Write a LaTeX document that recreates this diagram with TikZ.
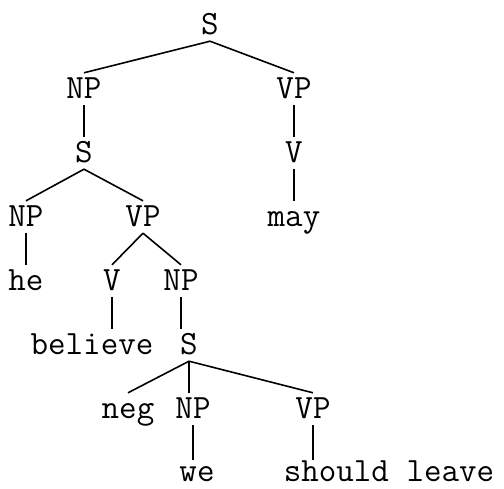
\documentclass[tikz,border=0pt]{standalone}
\usepackage{fontspec}
\tikzset{
  tag/.style = {anchor=base, font=\ttfamily\fontsize{34}{34}\selectfont,
                text height=20pt, text depth=0pt, inner xsep=2pt, inner ysep=6pt},
  leaf/.style = {tag, inner ysep=1pt},
  branch/.style = {line width=1.6pt}
}
\begin{document}
\begin{tikzpicture}[x=1pt, y=-1pt]
    \useasboundingbox (0,0) rectangle (504,489);
    \node[tag] (s1) at (210,35) {S};
    \node[tag] (np1) at (84,99) {NP};
    \node[tag] (vp1) at (294,99) {VP};
    \node[tag] (s2) at (84,163) {S};
    \node[tag] (v1) at (294,163) {V};
    \node[tag] (np2) at (26,227) {NP};
    \node[tag] (vp2) at (143,227) {VP};
    \node[tag] (may) at (294,227) {may};
    \node[tag] (he) at (26,291) {he};
    \node[tag] (v2) at (112,291) {V};
    \node[tag] (np3) at (181,291) {NP};
    \node[tag] (believe) at (92,355) {believe};
    \node[tag] (s3) at (189,355) {S};
    \node[tag] (neg) at (128,419) {neg};
    \node[tag] (np4) at (193,419) {NP};
    \node[tag] (vp3) at (313,419) {VP};
    \node[leaf] (we) at (197,481) {we};
    \node[leaf] (leave) at (389,481) {should leave};
    \path[branch] (s1.south) edge (np1.north) edge (vp1.north);
    \path[branch] (np1.south) edge (s2.north);
    \path[branch] (vp1.south) edge (v1.north);
    \path[branch] (s2.south) edge (np2.north) edge (vp2.north);
    \path[branch] (v1.south) edge (may.north);
    \path[branch] (np2.south) edge (he.north);
    \path[branch] (vp2.south) edge (v2.north) edge (np3.north);
    \path[branch] (v2.south) edge (v2.south |- believe.north);
    \path[branch] (np3.south) edge (np3.south |- s3.north);
    \path[branch] (s3.south) edge (neg.north) edge (s3.south |- np4.north) edge (vp3.north);
    \path[branch] (np4.south) edge (np4.south |- we.north);
    \path[branch] (vp3.south) edge (vp3.south |- leave.north);
\end{tikzpicture}
\end{document}
